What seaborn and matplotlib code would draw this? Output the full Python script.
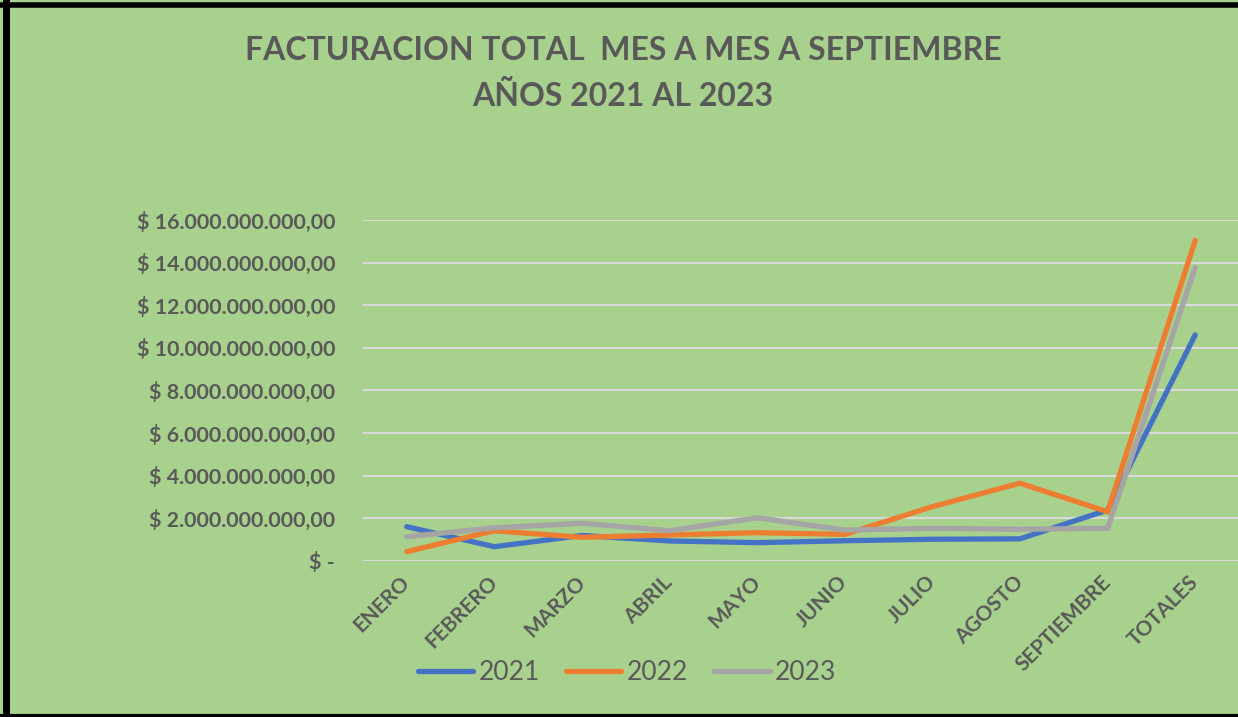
import pandas as pd
import matplotlib.pyplot as plt
from matplotlib.ticker import FuncFormatter
from matplotlib.lines import Line2D
import seaborn as sns

meses = ['ENERO', 'FEBRERO', 'MARZO', 'ABRIL', 'MAYO', 'JUNIO', 'JULIO',
         'AGOSTO', 'SEPTIEMBRE', 'TOTALES']
fact_2021 = [1.61e9, 0.67e9, 1.20e9, 0.94e9, 0.86e9, 0.95e9, 1.02e9, 1.04e9, 2.39e9, 10.61e9]
fact_2022 = [0.44e9, 1.42e9, 1.11e9, 1.22e9, 1.33e9, 1.25e9, 2.55e9, 3.65e9, 2.31e9, 15.04e9]
fact_2023 = [1.14e9, 1.56e9, 1.77e9, 1.42e9, 2.03e9, 1.45e9, 1.53e9, 1.49e9, 1.53e9, 13.77e9]
anios = ['2021', '2022', '2023']
colores = ['#4472C4', '#ED7D31', '#A5A5A5']

df = pd.DataFrame({
    'mes': meses * 3,
    'valor': fact_2021 + fact_2022 + fact_2023,
    'anio': [a for a in anios for _ in meses],
})

fondo = '#A9D18E'
gris_txt = '#595959'

sns.set_style('white')
plt.rcParams['font.family'] = ['Lato', 'DejaVu Sans']

fig = plt.figure(figsize=(12.38, 7.17), dpi=100, facecolor=fondo)
ax = fig.add_axes([363/1238, 1-561/717, 876/1238, 341/717])
ax.set_facecolor(fondo)

sns.lineplot(data=df, x='mes', y='valor', hue='anio', palette=colores,
             linewidth=3.8, sort=False, ax=ax, legend=False)
for l in ax.get_lines():
    l.set_solid_capstyle('round')
    l.set_solid_joinstyle('miter')

ax.set_xlim(-0.5, len(meses) - 0.5)
ax.set_ylim(0, 16e9)
ax.set_yticks([i * 2e9 for i in range(9)])

def fmt(v, pos):
    if v == 0:
        return '$ -'
    s = f'{v:,.2f}'.replace(',', 'X').replace('.', ',').replace('X', '.')
    return '$ ' + s
ax.yaxis.set_major_formatter(FuncFormatter(fmt))

ax.grid(axis='y', color='#D9D9D9', linewidth=1.5)
ax.grid(axis='x', visible=False)
ax.set_axisbelow(True)
for s in ax.spines.values():
    s.set_visible(False)
ax.tick_params(axis='both', length=0, colors=gris_txt)
ax.tick_params(axis='y', pad=20)
ax.tick_params(axis='x', pad=13)
ax.set_xlabel('')
ax.set_ylabel('')
for t in ax.get_yticklabels():
    t.set_fontsize(15.4)
    t.set_fontweight('bold')
    t.set_color(gris_txt)
for t in ax.get_xticklabels():
    t.set_fontsize(15)
    t.set_fontweight('bold')
    t.set_color(gris_txt)
    t.set_rotation(45)
    t.set_ha('right')
    t.set_va('center')
    t.set_rotation_mode('anchor')

fig.text(623/1238, 1-51/717, 'FACTURACION TOTAL  MES A MES A SEPTIEMBRE',
         ha='center', va='center', fontsize=23, fontweight='bold', color=gris_txt)
fig.text(623/1238, 1-96/717, 'AÑOS 2021 AL 2023',
         ha='center', va='center', fontsize=23, fontweight='bold', color=gris_txt)

handles = [Line2D([0], [0], color=c, linewidth=3.8, solid_capstyle='round') for c in colores]
fig.legend(handles, anios, loc='center', bbox_to_anchor=(627/1238, 1-673/717),
           ncol=3, frameon=False, fontsize=19, labelcolor=gris_txt,
           handlelength=2.1, handletextpad=0.2, columnspacing=1.0)

# marco negro
fig.add_artist(Line2D([6/1238, 6/1238], [0, 1], color='black', linewidth=5, transform=fig.transFigure))
fig.add_artist(Line2D([0, 1], [1-5/717, 1-5/717], color='black', linewidth=4, transform=fig.transFigure))
fig.add_artist(Line2D([0, 1], [1-715.5/717, 1-715.5/717], color='black', linewidth=3, transform=fig.transFigure))

fig.savefig('out.png', dpi=100, facecolor=fondo)
